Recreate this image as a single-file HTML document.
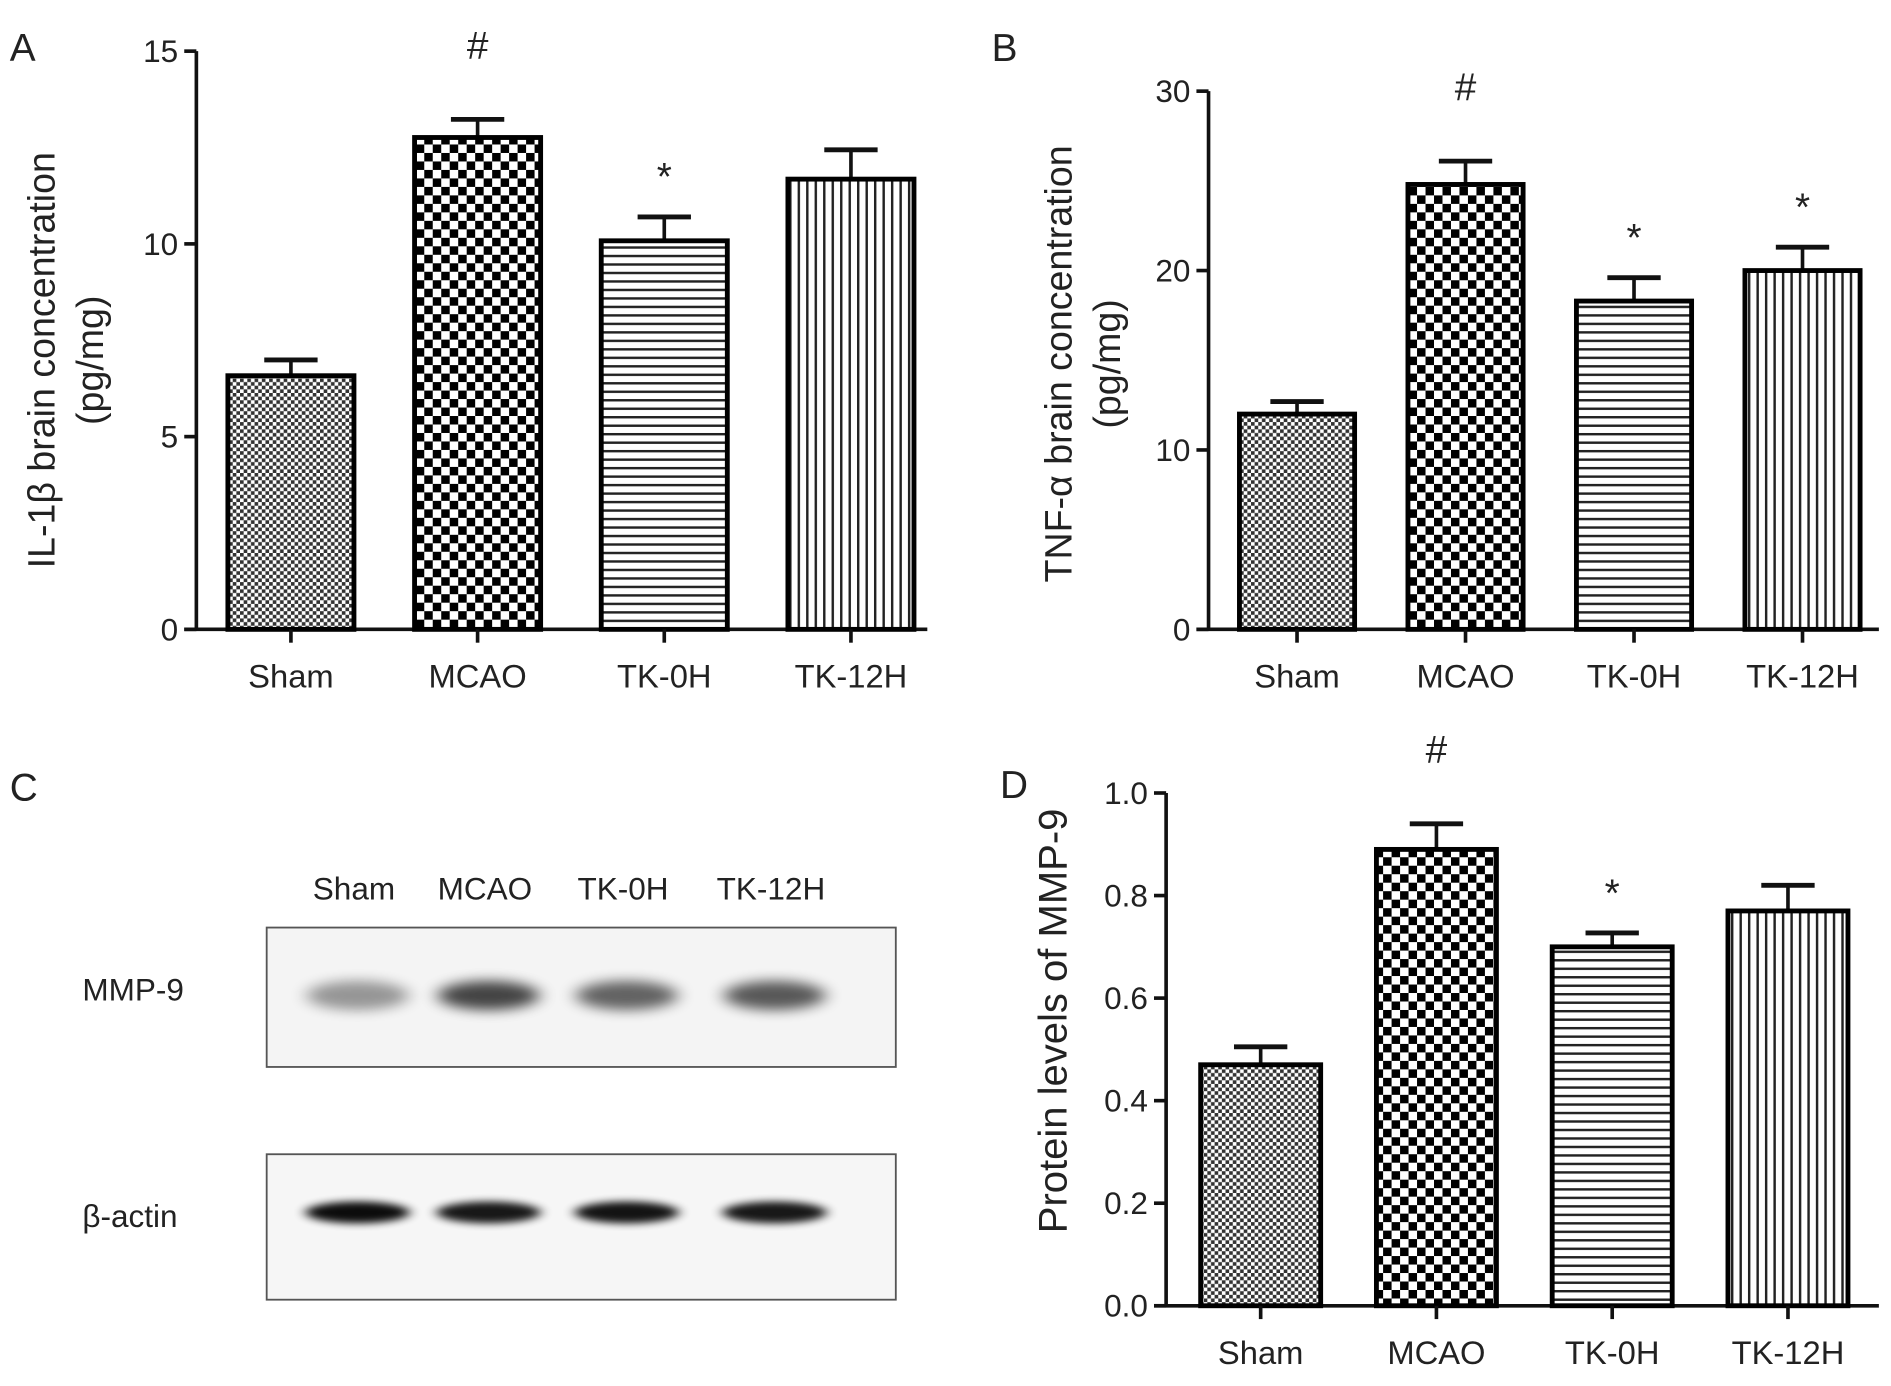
<!DOCTYPE html>
<html><head><meta charset="utf-8">
<style>
html,body{margin:0;padding:0;background:#fff;}
svg{display:block;}
text{font-family:"Liberation Sans",Arial,sans-serif;fill:#222;}
</style></head>
<body>
<svg id="fig" width="1891" height="1386" viewBox="0 0 1560 1143" xmlns="http://www.w3.org/2000/svg">
<defs>
<pattern id="pSham" width="6" height="6" patternUnits="userSpaceOnUse"><rect width="6" height="6" fill="#fff"/><rect width="3" height="3" fill="#333"/><rect x="3" y="3" width="3" height="3" fill="#333"/></pattern>
<pattern id="pMcao" width="14" height="14" patternUnits="userSpaceOnUse"><rect width="14" height="14" fill="#fff"/><rect width="7" height="7" fill="#000"/><rect x="7" y="7" width="7" height="7" fill="#000"/></pattern>
<pattern id="pTk0" width="8" height="7" patternUnits="userSpaceOnUse"><rect width="8" height="7" fill="#fff"/><rect y="0" width="8" height="2" fill="#222"/></pattern>
<pattern id="pTk12" width="7" height="8" patternUnits="userSpaceOnUse"><rect width="7" height="8" fill="#fff"/><rect x="0" width="2" height="8" fill="#222"/></pattern>
<filter id="blur" x="-50%" y="-200%" width="200%" height="500%"><feGaussianBlur stdDeviation="7 5"/></filter>
<filter id="blur2" x="-50%" y="-200%" width="200%" height="500%"><feGaussianBlur stdDeviation="5 3"/></filter>
</defs>
<g id="root"></g>
</svg>
<script>
const categories = ["Sham","MCAO","TK-0H","TK-12H"];
const aValues = [6.58, 12.76, 10.08, 11.68];
const aErrors = [0.41, 0.47, 0.62, 0.76];
const aTicks = [0, 5, 10, 15];
const aMarks = ["", "#", "*", ""];
const bValues = [12.0, 24.8, 18.3, 20.0];
const bErrors = [0.7, 1.3, 1.3, 1.3];
const bTicks = [0, 10, 20, 30];
const bMarks = ["", "#", "*", "*"];
const dValues = [0.47, 0.89, 0.70, 0.77];
const dErrors = [0.035, 0.05, 0.027, 0.05];
const dTicks = [0.0, 0.2, 0.4, 0.6, 0.8, 1.0];
const dTickLabels = ["0.0","0.2","0.4","0.6","0.8","1.0"];
const dMarks = ["", "#", "*", ""];
const mmpIntensity = [0.45, 0.85, 0.7, 0.75];
const actinIntensity = [0.95, 0.9, 0.92, 0.9];

const NS = "http://www.w3.org/2000/svg";
const root = document.getElementById("root");
const fills = ["url(#pSham)","url(#pMcao)","url(#pTk0)","url(#pTk12)"];
function mk(tag, attrs, parent, txt){
  const e = document.createElementNS(NS, tag);
  for (const k in attrs) e.setAttribute(k, attrs[k]);
  if (txt !== undefined) e.textContent = txt;
  (parent||root).appendChild(e);
  return e;
}
function panel(p, values, errors, ticks, tickLabels, marks){
  const g = mk("g", {});
  
  
  const y = v => p.y0 - (v - p.min) / (p.max - p.min) * (p.y0 - p.yTop);
  const x = i => p.x1 + p.gap * i;
  const lt = mk("text", {x:p.lx, y:p.ly, "font-size":32}, g, p.id);
  
  
  const ax = mk("line", {x1:p.ax, y1:p.yTop, x2:p.ax, y2:p.y0, stroke:"#111","stroke-width":3}, g);
  
  
  const xa = mk("line", {x1:p.ax-10, y1:p.y0, x2:p.xEnd, y2:p.y0, stroke:"#111","stroke-width":3}, g);
  
  
  ticks.forEach((t, i) => {
    const tk = mk("line", {x1:p.ax-10, y1:y(t), x2:p.ax, y2:y(t), stroke:"#111","stroke-width":3}, g);
    
    
    const tl = mk("text", {x:p.ax-15, y:y(t)+9, "font-size":26, "text-anchor":"end"}, g, tickLabels[i]);
    
    
  });
  const yt = mk("text", {transform:`translate(${p.tx},${p.ty}) rotate(-90)`, "font-size":p.tfs, "text-anchor":"middle"}, g);
  
  
  p.title.forEach((line, i) => mk("tspan", {x:0, dy: i ? 40 : 0}, yt, line));
  categories.forEach((c, i) => {
    const cx = x(i), top = y(values[i]), et = y(values[i] + errors[i]);
    const eb = mk("line", {x1:cx, y1:top, x2:cx, y2:et, stroke:"#111","stroke-width":3}, g);
    
    
    const ec = mk("line", {x1:cx-22, y1:et, x2:cx+22, y2:et, stroke:"#111","stroke-width":4}, g);
    
    
    const r = mk("rect", {x:cx-p.bw/2, y:top, width:p.bw, height:p.y0-top, fill:fills[i], stroke:"#000","stroke-width":4}, g);
    
    
    const xt = mk("line", {x1:cx, y1:p.y0, x2:cx, y2:p.y0+11, stroke:"#111","stroke-width":3}, g);
    
    
    const xl = mk("text", {x:cx, y:p.y0+48, "font-size":27, "text-anchor":"middle"}, g, c);
    
    
    if (marks[i]) {
      const isHash = marks[i] === "#";
      const m = mk("text", {x:cx, y: isHash ? et - 50 : et - 22, "font-size": isHash ? 32 : 32, "text-anchor":"middle", fill: isHash ? "#555" : "#334"}, g, marks[i]);
      
      
    }
  });
}
panel({id:"A", lx:8, ly:50, ax:162, xEnd:765, yTop:42, y0:519, min:0, max:15, x1:240, gap:154, bw:104, tx:45, ty:297, tfs:31,
  title:["IL-1β brain concentration","(pg/mg)"]}, aValues, aErrors, aTicks, aTicks.map(String), aMarks);
panel({id:"B", lx:818, ly:50, ax:997, xEnd:1550, yTop:75, y0:519, min:0, max:30, x1:1070, gap:139, bw:95, tx:884, ty:300, tfs:31,
  title:["TNF-α brain concentration","(pg/mg)"]}, bValues, bErrors, bTicks, bTicks.map(String), bMarks);
panel({id:"D", lx:825, ly:658, ax:962, xEnd:1550, yTop:654, y0:1077, min:0, max:1, x1:1040, gap:145, bw:99, tx:880, ty:842, tfs:33,
  title:["Protein levels of MMP-9"]}, dValues, dErrors, dTicks, dTickLabels, dMarks);

// Panel C western blot
const gc = mk("g", {});


const cl = mk("text", {x:8, y:660, "font-size":32}, gc, "C");


const laneX = [292, 400, 514, 636];
categories.forEach((c, i) => {
  const t = mk("text", {x:laneX[i], y:742, "font-size":26, "text-anchor":"middle"}, gc, c);
  
  
});
const box1 = mk("rect", {x:220, y:765, width:519, height:115, fill:"#f4f4f4", stroke:"#555","stroke-width":1.5}, gc);


const box2 = mk("rect", {x:220, y:952, width:519, height:120, fill:"#f6f6f6", stroke:"#555","stroke-width":1.5}, gc);


const l1 = mk("text", {x:68, y:825, "font-size":26}, gc, "MMP-9");


const l2 = mk("text", {x:68, y:1012, "font-size":26}, gc, "β-actin");


categories.forEach((c, i) => {
  const b = mk("ellipse", {cx:laneX[i]+3, cy:821, rx:42, ry:12, fill:"#000", opacity:mmpIntensity[i]*0.85, filter:"url(#blur)"}, gc);
  
  
  const a = mk("ellipse", {cx:laneX[i]+3, cy:1000, rx:43, ry:9, fill:"#000", opacity:actinIntensity[i], filter:"url(#blur2)"}, gc);
  
  
});
</script>
</body></html>
